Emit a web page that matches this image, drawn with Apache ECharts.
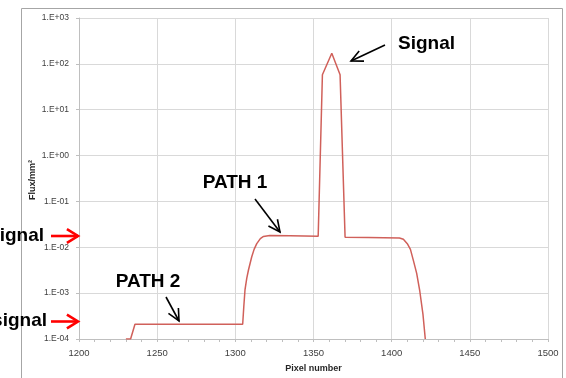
<!DOCTYPE html>
<html>
<head>
<meta charset="utf-8">
<script src="https://cdn.jsdelivr.net/npm/echarts@6/dist/echarts.min.js"></script>
<style>
html,body{margin:0;padding:0;background:#fff;}
#c{width:566px;height:378px;}
</style>
</head>
<body>
<div id="c"></div>
<script>
// Data
const pixelNumber = [1230, 1233, 1235.8, 1304.7, 1305.4, 1306.2, 1307.3, 1308.4, 1310.5, 1312, 1313.7, 1316, 1318, 1322, 1335, 1353, 1355.7, 1361.7, 1367, 1370.2, 1385, 1405, 1407.5, 1410, 1412, 1414, 1416, 1418, 1420, 1421.5];
const flux = [1e-4, 1e-4, 2.1e-4, 2.1e-4, 5e-4, 1.2e-3, 2.1e-3, 3.2e-3, 6.2e-3, 9e-3, 1.2e-2, 1.55e-2, 1.72e-2, 1.8e-2, 1.78e-2, 1.75e-2, 58, 170, 58, 1.65e-2, 1.63e-2, 1.6e-2, 1.5e-2, 1.2e-2, 9e-3, 5e-3, 2.7e-3, 1.1e-3, 3.5e-4, 1e-4];
const xTicks = {min: 1200, max: 1500, step: 50};
const yRange = {min: 1e-4, max: 1e3};
const xTitle = 'Pixel number';
const yTitle = 'Flux/mm²';
const annotations = ['Signal', 'PATH 1', 'PATH 2', 'ignal', 'signal'];

const chart = echarts.init(document.getElementById('c'), null, {renderer: 'canvas'});

function arrow(x1, y1, x2, y2, head, color, width, ang) {
  const dx = x2 - x1, dy = y2 - y1;
  const len = Math.sqrt(dx * dx + dy * dy);
  const ux = dx / len, uy = dy / len;
  const a = ang || Math.PI / 6;
  const c = Math.cos(a), s = Math.sin(a);
  const h1 = [x2 - head * (ux * c - uy * s), y2 - head * (uy * c + ux * s)];
  const h2 = [x2 - head * (ux * c + uy * s), y2 - head * (uy * c - ux * s)];
  return [
    {type: 'polyline', shape: {points: [[x1, y1], [x2, y2]]}, style: {stroke: color, lineWidth: width, fill: null}, z: 100},
    {type: 'polyline', shape: {points: [h1, [x2, y2], h2]}, style: {stroke: color, lineWidth: width, fill: null, lineJoin: 'miter'}, z: 100}
  ];
}

const lblFont = '"Liberation Sans", Arial, sans-serif';
const bold = 'bold 19px "Liberation Sans", Arial, sans-serif';
const graphics = [
  {type: 'polyline', shape: {points: [[21.5, 378], [21.5, 8.5], [562.5, 8.5], [562.5, 378]]}, style: {stroke: '#a6a6a6', lineWidth: 1, fill: null}, silent: true},
  {type: 'text', x: 33, y: 180, rotation: Math.PI / 2, style: {text: yTitle, font: 'bold 9px ' + lblFont, fill: '#262626', textAlign: 'center', textVerticalAlign: 'middle'}},
  {type: 'text', x: 398, y: 44, style: {text: annotations[0], font: bold, fill: '#000', textVerticalAlign: 'middle'}, z: 100},
  {type: 'text', x: 235, y: 183, style: {text: annotations[1], font: bold, fill: '#000', textAlign: 'center', textVerticalAlign: 'middle'}, z: 100},
  {type: 'text', x: 148, y: 282, style: {text: annotations[2], font: bold, fill: '#000', textAlign: 'center', textVerticalAlign: 'middle'}, z: 100},
  {type: 'text', x: 44, y: 236, style: {text: annotations[3], font: bold, fill: '#000', textAlign: 'right', textVerticalAlign: 'middle'}, z: 100},
  {type: 'text', x: 47, y: 321, style: {text: annotations[4], font: bold, fill: '#000', textAlign: 'right', textVerticalAlign: 'middle'}, z: 100}
]
  .concat(arrow(385, 45, 351, 61, 13, '#000', 1.6, 0.45))
  .concat(arrow(255, 199, 280, 232, 13, '#000', 1.6, 0.45))
  .concat(arrow(166, 297, 179, 321, 13, '#000', 1.6, 0.45))
  .concat(arrow(51, 236, 78, 236, 13, '#ff0000', 2.6, 0.55))
  .concat(arrow(51, 321.5, 78, 321.5, 13, '#ff0000', 2.6, 0.55));

function fmtExp(v) {
  const e = Math.round(Math.log10(v));
  return '1.E' + (e < 0 ? '-' : '+') + String(Math.abs(e)).padStart(2, '0');
}

chart.setOption({
  animation: false,
  backgroundColor: '#ffffff',
  grid: {left: 79, right: 18, top: 18, bottom: 39, containLabel: false},
  xAxis: {
    type: 'value',
    min: xTicks.min, max: xTicks.max, interval: xTicks.step,
    name: xTitle, nameLocation: 'middle', nameGap: 25,
    nameTextStyle: {fontFamily: lblFont, fontSize: 9, fontWeight: 'bold', color: '#262626'},
    axisLine: {show: true, lineStyle: {color: '#bfbfbf', width: 1}},
    axisTick: {show: true, length: 3, lineStyle: {color: '#bfbfbf'}},
    minorTick: {show: true, splitNumber: 5, length: 3, lineStyle: {color: '#bfbfbf'}},
    axisLabel: {fontFamily: lblFont, fontSize: 9.5, color: '#404040', margin: 9, formatter: v => String(v)},
    splitLine: {show: true, lineStyle: {color: '#d9d9d9', width: 1}}
  },
  yAxis: {
    type: 'log', logBase: 10,
    min: yRange.min, max: yRange.max, splitNumber: 7,
    axisLine: {show: true, lineStyle: {color: '#bfbfbf', width: 1}},
    axisTick: {show: true, length: 3, lineStyle: {color: '#bfbfbf'}},
    axisLabel: {fontFamily: lblFont, fontSize: 8.5, color: '#404040', margin: 10, formatter: fmtExp},
    splitLine: {show: true, lineStyle: {color: '#d9d9d9', width: 1}}
  },
  series: [{
    type: 'line',
    data: pixelNumber.map((x, i) => [x, flux[i]]),
    showSymbol: false,
    smooth: false,
    lineStyle: {color: '#d0605a', width: 1.5},
    clip: true
  }],
  graphic: graphics
});
</script>
</body>
</html>
